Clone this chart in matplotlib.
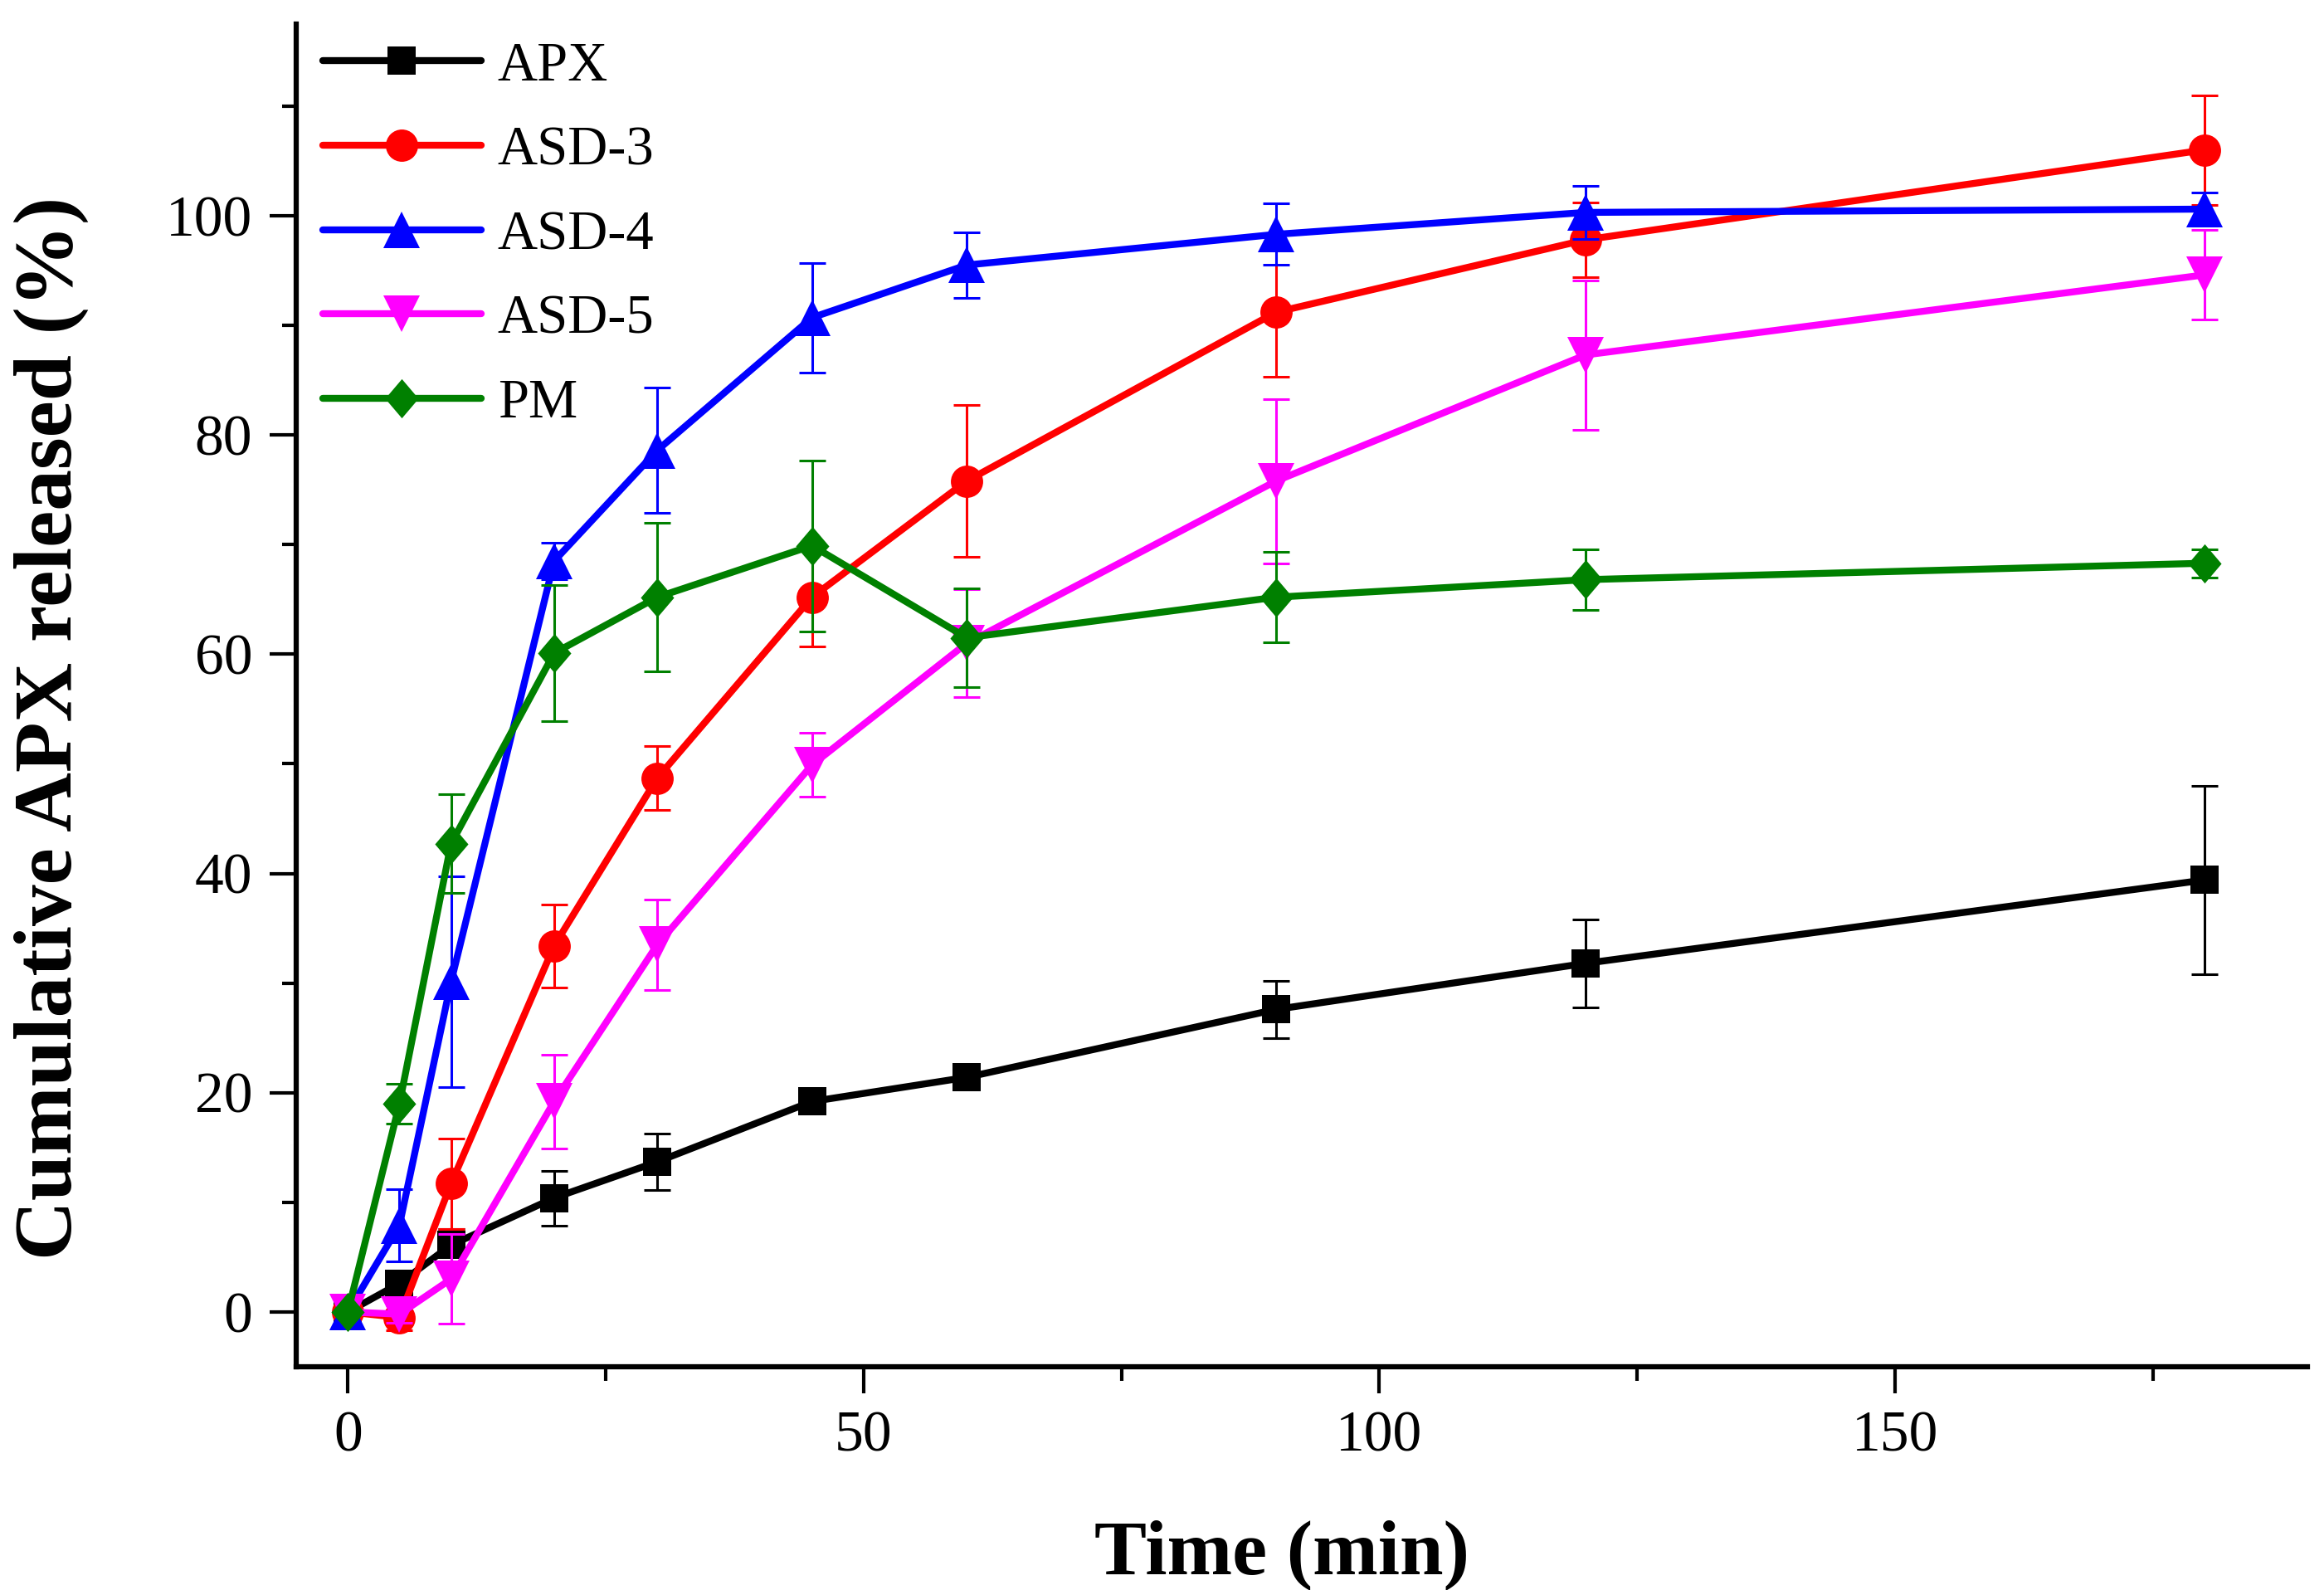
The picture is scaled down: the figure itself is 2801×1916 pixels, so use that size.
import matplotlib
matplotlib.use("Agg")
import matplotlib.pyplot as plt
from matplotlib.ticker import MultipleLocator
from matplotlib.path import Path

# ---- data ----
time_min = [0, 5, 10, 20, 30, 45, 60, 90, 120, 180]
apx = [0, 2.6, 6.1, 10.4, 13.7, 19.2, 21.4, 27.6, 31.8, 39.4]
apx_err = [0, 1.0, 1.5, 2.5, 2.6, 0.8, 0.8, 2.6, 4.0, 8.6]
asd3 = [0, -0.5, 11.7, 33.4, 48.7, 65.2, 75.8, 91.2, 97.8, 106.0]
asd3_err = [0, 1.2, 4.1, 3.8, 2.9, 4.5, 6.9, 5.9, 3.4, 5.0]
asd4 = [0, 7.9, 30.1, 68.5, 78.6, 90.7, 95.5, 98.3, 100.3, 100.6]
asd4_err = [0, 3.3, 9.6, 1.7, 5.7, 5.0, 3.0, 2.8, 2.4, 1.5]
asd5 = [0, -0.2, 3.0, 19.2, 33.5, 49.9, 61.0, 75.8, 87.3, 94.6]
asd5_err = [0, 0.8, 4.1, 4.3, 4.1, 2.9, 4.9, 7.5, 6.8, 4.1]
pm = [0, 19.0, 42.7, 60.1, 65.2, 69.9, 61.5, 65.2, 66.8, 68.3]
pm_err = [0, 1.8, 4.5, 6.2, 6.8, 7.8, 4.5, 4.1, 2.8, 1.3]

labels = ["APX", "ASD-3", "ASD-4", "ASD-5", "PM"]
colors = ["#000000", "#FF0000", "#0000FF", "#FF00FF", "#008000"]

plt.rcParams['font.family'] = ['Liberation Serif', 'DejaVu Serif']

diamond = Path([(0, 1), (0.85, 0), (0, -1), (-0.85, 0), (0, 1)],
               [Path.MOVETO, Path.LINETO, Path.LINETO, Path.LINETO, Path.CLOSEPOLY])
markers = ["s", "o", "^", "v", diamond]
msizes = [25, 28, 31, 31, 34]

series = [(apx, apx_err), (asd3, asd3_err), (asd4, asd4_err), (asd5, asd5_err), (pm, pm_err)]

fig = plt.figure(figsize=(28.01, 19.16), dpi=100)
ax = fig.add_axes([0.1275, 0.1404, 0.9929 - 0.1275, 0.985 - 0.1404])

for i, ((y, e), lab, c, m, ms) in enumerate(zip(series, labels, colors, markers, msizes)):
    ax.errorbar(time_min, y, yerr=e, fmt='none', ecolor=c, elinewidth=2.2,
                capsize=11.5, capthick=2.2, zorder=2 + 2 * i)
    ax.plot(time_min, y, color=c, lw=6, marker=m, markersize=ms,
            markeredgewidth=0, label=lab, zorder=3 + 2 * i,
            solid_capstyle='round', solid_joinstyle='round')

ax.set_xlim(-5, 190)
ax.set_ylim(-5, 117.5)
ax.xaxis.set_major_locator(MultipleLocator(50))
ax.xaxis.set_minor_locator(MultipleLocator(25))
ax.yaxis.set_major_locator(MultipleLocator(20))
ax.yaxis.set_minor_locator(MultipleLocator(10))

for s in ['top', 'right']:
    ax.spines[s].set_visible(False)
for s in ['left', 'bottom']:
    ax.spines[s].set_linewidth(4.5)

ax.tick_params(which='major', direction='out', length=23, width=3, labelsize=50, pad=15)
ax.tick_params(which='minor', direction='out', length=12, width=3)

ax.set_xlabel("Time (min)", fontsize=68, fontweight='bold')
ax.set_ylabel("Cumulative APX released (%)", fontsize=71.5, fontweight='bold')
ax.xaxis.set_label_coords(0.49, -0.14)
ax.xaxis.label.set_va('center')
ax.yaxis.set_label_coords(-0.1217, 0.4756)
ax.yaxis.label.set_va('center')

leg = ax.legend(loc='upper left', bbox_to_anchor=(0.0132, 0.987), frameon=False,
                fontsize=48, handlelength=2.86, handletextpad=0.3,
                labelspacing=0.61, borderpad=0, borderaxespad=0, numpoints=1)

fig.savefig("out.png", dpi=100)
